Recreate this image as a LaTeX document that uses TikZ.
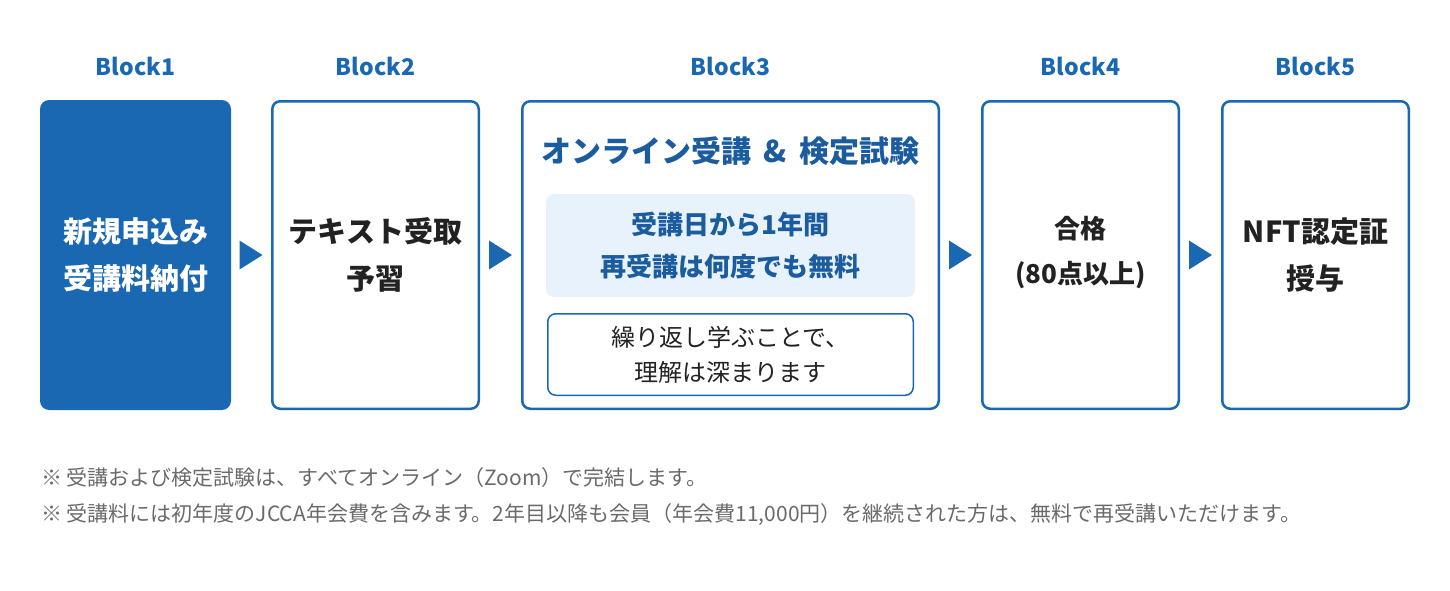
\documentclass[tikz,border=0pt]{standalone}
\usepackage{fontspec}
\setmainfont{Noto Sans CJK JP}
\usetikzlibrary{calc}
\definecolor{mainblue}{HTML}{1A67B2}
\definecolor{titleblue}{HTML}{1B5C9F}
\definecolor{lightblue}{HTML}{E8F2FC}
\definecolor{darktext}{HTML}{222222}
\definecolor{notegray}{HTML}{6A6A6A}

\begin{document}
\begin{tikzpicture}[x=1pt,y=-1pt,
  blockbox/.style={draw=mainblue, line width=2.5pt, rounded corners=8pt,
    minimum height=307.5pt, inner sep=0pt},
  blocklabel/.style={text=mainblue, font=\fontsize{23}{28}\selectfont\bfseries},
  steptext/.style={text=darktext, font=\fontsize{29}{47}\selectfont\bfseries, align=center},
  notetext/.style={text=notegray, font=\fontsize{21}{24}\selectfont, anchor=west, inner sep=0pt}]
  \useasboundingbox (0,0) rectangle (1450,590);

  % Draw the five blocks
  \node[blockbox, fill=mainblue, minimum width=188.5pt] (b1) at (135.5,255) {};
  \node[blockbox, minimum width=206.5pt] (b2) at (375.5,255) {};
  \node[blockbox, minimum width=416.5pt] (b3) at (730.5,255) {};
  \node[blockbox, minimum width=196.5pt] (b4) at (1080.5,255) {};
  \node[blockbox, minimum width=186.5pt] (b5) at (1315.5,255) {};

  % Labels above the blocks
  \foreach \b/\n in {b1/1,b2/2,b3/3,b4/4,b5/5}
    \node[blocklabel] (l\n) at ($(\b.north)+(0,-34)$) {Block\n};

  % Texts inside the blocks
  \node[steptext, text=white] (s1) at (b1) {新規申込み\\受講料納付};
  \node[steptext] (s2) at (b2) {テキスト受取\\予習};
  \node[steptext, font=\fontsize{26}{45}\selectfont\bfseries] (s4) at (1080.5,253) {合格\\(80点以上)};
  \node[steptext] (s5) at (b5) {NFT認定証\\授与};

  % Inside of block 3
  \node[steptext, text=titleblue, font=\fontsize{30}{36}\selectfont\bfseries] (t3) at (730.5,151)
    {オンライン受講\hspace{0.4em}\&\hspace{0.4em}検定試験};
  \node[fill=lightblue, rounded corners=8pt, minimum width=369pt, minimum height=103pt,
    text=titleblue, font=\fontsize{26}{42}\selectfont\bfseries, align=center]
    (free) at (730.5,245.5) {受講日から1年間\\再受講は何度でも無料};
  \node[draw=mainblue, line width=1.5pt, rounded corners=8pt, minimum width=365.5pt,
    minimum height=81.5pt, text=darktext, font=\fontsize{24}{35}\selectfont, align=center]
    (repeat) at (730.5,354.5) {繰り返し学ぶことで、\\理解は深まります};

  % Arrows between the blocks
  \foreach \a/\b in {b1/b2,b2/b3,b3/b4,b4/b5}
    \fill[mainblue] ($(\a.east)!0.5!(\b.west)$) ++(-11.5,-14.5) -- ++(0,29) -- ++(23,-14.5) -- cycle;

  % Notes
  \node[notetext] (n1) at (41,478) {※ 受講および検定試験は、すべてオンライン（Zoom）で完結します。};
  \node[notetext] (n2) at (41,514) {※ 受講料には初年度のJCCA年会費を含みます。2年目以降も会員（年会費11,000円）を継続された方は、無料で再受講いただけます。};

\end{tikzpicture}
\end{document}
